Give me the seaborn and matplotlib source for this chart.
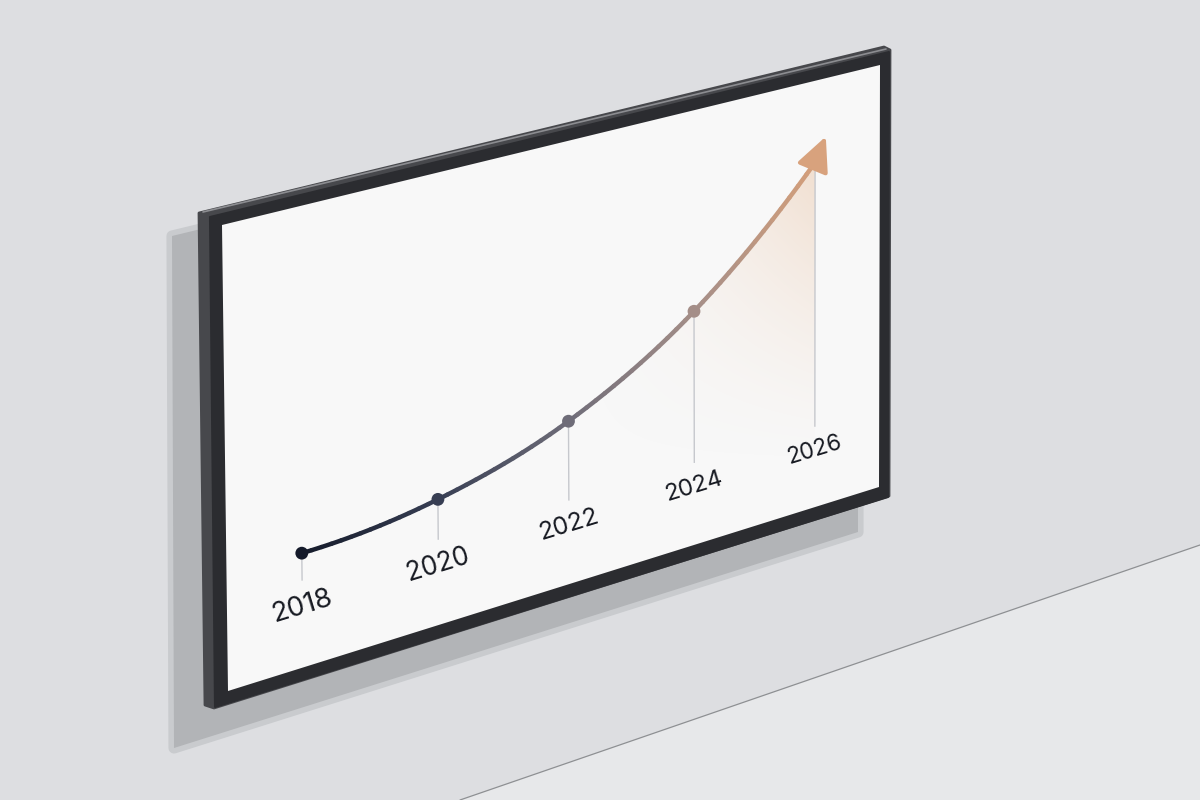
import numpy as np
import matplotlib
matplotlib.use("Agg")
import matplotlib.pyplot as plt
import matplotlib.transforms as mtransforms
from matplotlib.path import Path
from matplotlib.patches import Polygon, PathPatch
from matplotlib.colors import to_rgb
import seaborn as sns

# ---------------- data ----------------
years = [2018, 2020, 2022, 2024, 2026]
values = [25, 28, 37, 54, 81]
year_labels = ["2018", "2020", "2022", "2024", "2026"]
marker_years = [2018, 2020, 2022, 2024]
marker_values = [25, 28, 37, 54]
arrow_tip = (2026.18, 86.4)

# ---------------- style ----------------
sns.set_theme(style="white")
plt.rcParams['font.family'] = ['Inter', 'DejaVu Sans']

LINE_COLORS = ['#141a2a', '#373e53', '#6e6c78', '#a48e88', '#d49f7b']
ARROW_COLOR = '#d8a27d'
STEM_COLOR = '#c6c8cd'
TEXT_COLOR = '#171a22'
WALL = '#dddee1'
FLOOR = '#e7e8ea'

X_RANGE = (2016.93, 2027.10)
Y_RANGE = (0, 100)
LABEL_Y = 13.4
STEM_BOTTOM = 19

# screen (inner white area) corners in image pixels (y down)
SCR_BL, SCR_BR, SCR_TR, SCR_TL = (228, 691), (879, 487), (880, 65), (222, 225)


def homography(src, dst):
    A, b = [], []
    for (x, y), (X, Y) in zip(src, dst):
        A.append([x, y, 1, 0, 0, 0, -X * x, -X * y]); b.append(X)
        A.append([0, 0, 0, x, y, 1, -Y * x, -Y * y]); b.append(Y)
    h = np.linalg.solve(np.array(A, float), np.array(b, float))
    return np.append(h, 1.0).reshape(3, 3)


class ProjectiveTransform(mtransforms.Transform):
    input_dims = 2
    output_dims = 2
    is_separable = False
    has_inverse = False

    def __init__(self, M):
        super().__init__()
        self.M = M

    def transform_non_affine(self, values):
        v = np.asarray(values, float)
        one = v.ndim == 1
        v = v.reshape(-1, 2)
        h = np.column_stack([v, np.ones(len(v))]) @ self.M.T
        out = h[:, :2] / h[:, 2:3]
        return out[0] if one else out


fig = plt.figure(figsize=(12, 8), dpi=100)
fig.patch.set_facecolor(WALL)

bg = fig.add_axes([0, 0, 1, 1])
bg.set_xlim(0, 1200)
bg.set_ylim(800, 0)
bg.axis('off')

ax = fig.add_axes([0, 0, 1, 1])
ax.axis('off')
ax.set_xlim(*X_RANGE)
ax.set_ylim(*Y_RANGE)

H = ProjectiveTransform(homography([(0, 0), (1, 0), (1, 1), (0, 1)],
                                   [SCR_BL, SCR_BR, SCR_TR, SCR_TL]))
T = ax.transData + ax.transAxes.inverted() + H + bg.transData

# ---------------- wall scene ----------------
bg.add_patch(Polygon([(460, 800), (1200, 545), (1200, 800)], closed=True,
                     fc=FLOOR, ec='none', zorder=1))
bg.plot([460, 1200], [800, 545], color='#8e9093', lw=0.9, zorder=2)

shadow = [(172, 236), (858, 70), (858, 532), (174, 748)]
bg.add_patch(Polygon(shadow, closed=True, fc='#c4c6c9', ec='#c9cbce', lw=8,
                     joinstyle='round', zorder=3))
bg.add_patch(Polygon(shadow, closed=True, fc='#b2b4b7', ec='none', zorder=3))

bg.add_patch(Polygon([(199, 213), (884, 47), (890, 50), (889, 496), (214, 708), (205, 705)],
                     closed=True, fc='#47484c', ec='#47484c', lw=2, joinstyle='round', zorder=4))
bg.add_patch(Polygon([(210, 217), (889, 52), (888, 497), (215, 707)],
                     closed=True, fc='#2b2c30', ec='#2b2c30', lw=1.5, joinstyle='round', zorder=4))
bg.plot([203, 886], [212, 49], color='#8c8d91', lw=1.2, zorder=4, solid_capstyle='round')
bg.add_patch(Polygon([SCR_TL, SCR_TR, SCR_BR, SCR_BL], closed=True,
                     fc='#f8f8f8', ec='none', zorder=4))

# ---------------- curve geometry (Bezier through the points) ----------------
P = np.column_stack([years, values]).astype(float)
m = np.zeros_like(P)
m[1:-1] = (P[2:] - P[:-2]) / 2
m[0] = (-3 * P[0] + 4 * P[1] - P[2]) / 2
m[-1] = (3 * P[-1] - 4 * P[-2] + P[-3]) / 2
segments = []
for i in range(len(P) - 1):
    segments.append([P[i], P[i] + m[i] / 3, P[i + 1] - m[i + 1] / 3, P[i + 1]])


def blossom(c, t1, t2, t3):
    a = [(1 - t1) * c[k] + t1 * c[k + 1] for k in range(3)]
    b = [(1 - t2) * a[k] + t2 * a[k + 1] for k in range(2)]
    return (1 - t3) * b[0] + t3 * b[1]


rgb = np.array([to_rgb(c) for c in LINE_COLORS])
NSUB = 14
for i, seg in enumerate(segments):
    for k in range(NSUB):
        s, t = k / NSUB, (k + 1) / NSUB
        q = [blossom(seg, s, s, s), blossom(seg, s, s, t),
             blossom(seg, s, t, t), blossom(seg, t, t, t)]
        f = (k + 0.5) / NSUB
        col = (1 - f) * rgb[i] + f * rgb[i + 1]
        patch = PathPatch(Path(q, [Path.MOVETO, Path.CURVE4, Path.CURVE4, Path.CURVE4]),
                          fill=False, edgecolor=col, lw=3.2, capstyle='round',
                          transform=T, zorder=4)
        ax.add_artist(patch)

# fill area path (under the curve, right boundary at last year)
verts = [P[0]]
codes = [Path.MOVETO]
for seg in segments:
    verts += [seg[1], seg[2], seg[3]]
    codes += [Path.CURVE4] * 3
verts += [(years[-1], Y_RANGE[0]), (years[0], Y_RANGE[0]), P[0]]
codes += [Path.LINETO, Path.LINETO, Path.CLOSEPOLY]
fill_path = Path(np.array(verts), codes)

xs = np.linspace(540, 830, 290)
ys = np.linspace(120, 500, 380)
GX, GY = np.meshgrid(xs, ys)
alpha = 0.46 * np.clip((GX - 575) / 240, 0, 1) ** 1.3 * np.clip((465 - GY) / 295, 0, 1) ** 1.3
img = np.zeros((len(ys), len(xs), 4))
img[..., :3] = to_rgb('#e9c3a3')
img[..., 3] = alpha
im = bg.imshow(img, extent=(540, 830, 500, 120), origin='upper', aspect='auto',
               interpolation='bilinear', zorder=5)
im.set_clip_path(fill_path, T)
bg.set_xlim(0, 1200)
bg.set_ylim(800, 0)

# ---------------- stems ----------------
ax.vlines(years, STEM_BOTTOM, values, colors=STEM_COLOR, lw=1.0, transform=T, zorder=2)

# ---------------- markers ----------------
sns.scatterplot(x=marker_years, y=marker_values, hue=year_labels[:4],
                palette=LINE_COLORS[:4], s=85, linewidth=0, legend=False, ax=ax, zorder=6)
ax.collections[-1].set_offset_transform(T)

# ---------------- arrow head ----------------
ax.annotate('', xy=arrow_tip, xycoords=T, xytext=(years[-1], values[-1]), textcoords=T,
            arrowprops=dict(arrowstyle='-|>,head_length=1.05,head_width=0.5',
                            color=ARROW_COLOR, lw=3, shrinkA=0, shrinkB=0,
                            mutation_scale=20), zorder=7)

# ---------------- year labels ----------------
ax.set_xlim(*X_RANGE)
ax.set_ylim(*Y_RANGE)
for yr, lab in zip(years, year_labels):
    p0 = T.transform((yr - 0.3, LABEL_Y))
    p1 = T.transform((yr + 0.3, LABEL_Y))
    ang = np.degrees(np.arctan2(p1[1] - p0[1], p1[0] - p0[0]))
    b0 = T.transform((yr, Y_RANGE[0]))
    b1 = T.transform((yr, Y_RANGE[1]))
    hpx = np.hypot(*(b1 - b0))
    ax.text(yr, LABEL_Y, lab, transform=T, rotation=ang, rotation_mode='anchor',
            ha='center', va='center', fontsize=19.8 * (hpx / 461) ** 2.4,
            color=TEXT_COLOR, zorder=8)

fig.savefig('out.png', dpi=100, facecolor=fig.get_facecolor())
